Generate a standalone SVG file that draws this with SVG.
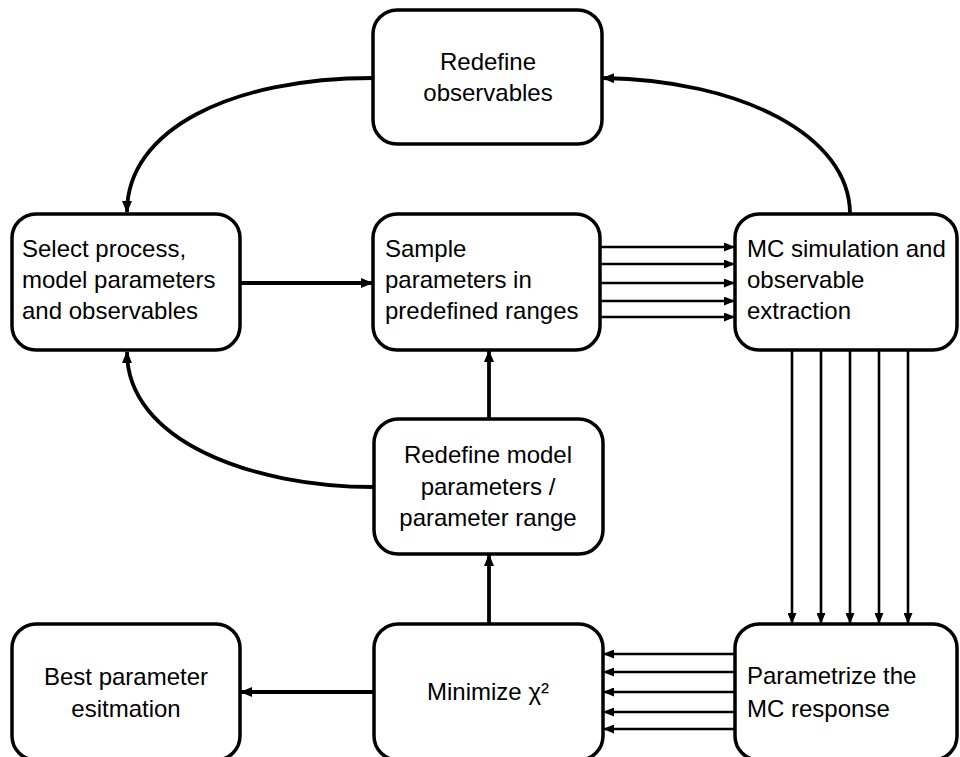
<svg xmlns="http://www.w3.org/2000/svg" width="960" height="757" viewBox="0 0 960 757">
<style>
.box{fill:#fff;stroke:#000;stroke-width:3.5}
.t{font-family:"Liberation Sans",Arial,sans-serif;font-size:24px;fill:#000}
.c{text-anchor:middle}
.thick{fill:none;stroke:#000;stroke-width:3.8}
.thin{fill:none;stroke:#000;stroke-width:2.6}
</style>
<defs>
<marker id="ah" markerUnits="userSpaceOnUse" viewBox="0 0 12 10" refX="11" refY="5" markerWidth="12" markerHeight="10" orient="auto">
<path d="M0,0 L12,5 L0,10 Z" fill="#000"/>
</marker>
<marker id="ahs" markerUnits="userSpaceOnUse" viewBox="0 0 11 9" refX="10" refY="4.5" markerWidth="11" markerHeight="9" orient="auto">
<path d="M0,0 L11,4.5 L0,9 Z" fill="#000"/>
</marker>
</defs>
<rect width="960" height="757" fill="#fff"/>
<g id="connectors">
<path class="thick" d="M373,78 C230,78 127,130 127,212" marker-end="url(#ah)"/>
<path class="thick" d="M850,214 C850,135 740,80 603,78" marker-end="url(#ah)"/>
<path class="thick" d="M374,487 C250,487 127,440 127,352" marker-end="url(#ah)"/>
<path class="thick" d="M240,283 L372,283" marker-end="url(#ah)"/>
<path class="thin" d="M600,247 L734,247" marker-end="url(#ahs)"/>
<path class="thin" d="M600,264 L734,264" marker-end="url(#ahs)"/>
<path class="thin" d="M600,283 L734,283" marker-end="url(#ahs)"/>
<path class="thin" d="M600,301 L734,301" marker-end="url(#ahs)"/>
<path class="thin" d="M600,317 L734,317" marker-end="url(#ahs)"/>
<path class="thin" d="M792,350 L792,623" marker-end="url(#ahs)"/>
<path class="thin" d="M821,350 L821,623" marker-end="url(#ahs)"/>
<path class="thin" d="M850,350 L850,623" marker-end="url(#ahs)"/>
<path class="thin" d="M879,350 L879,623" marker-end="url(#ahs)"/>
<path class="thin" d="M908,350 L908,623" marker-end="url(#ahs)"/>
<path class="thin" d="M735,654 L604,654" marker-end="url(#ahs)"/>
<path class="thin" d="M735,672 L604,672" marker-end="url(#ahs)"/>
<path class="thin" d="M735,692 L604,692" marker-end="url(#ahs)"/>
<path class="thin" d="M735,712 L604,712" marker-end="url(#ahs)"/>
<path class="thin" d="M735,729 L604,729" marker-end="url(#ahs)"/>
<path class="thick" d="M489,624 L489,555" marker-end="url(#ah)"/>
<path class="thick" d="M489,419 L489,351" marker-end="url(#ah)"/>
<path class="thick" d="M374,692 L241,692" marker-end="url(#ah)"/>
</g>
<g id="redefine-observables">
<rect class="box" x="373" y="10" width="229" height="134" rx="24"/>
<text class="t c" x="488" y="70">Redefine</text>
<text class="t c" x="488" y="101">observables</text>
</g>
<g id="select-process">
<rect class="box" x="12" y="214" width="228" height="136" rx="24"/>
<text class="t" x="22" y="257">Select process,</text>
<text class="t" x="22" y="288">model parameters</text>
<text class="t" x="22" y="319">and observables</text>
</g>
<g id="sample-parameters">
<rect class="box" x="373" y="214" width="227" height="136" rx="24"/>
<text class="t" x="385" y="257">Sample</text>
<text class="t" x="385" y="288">parameters in</text>
<text class="t" x="385" y="319">predefined ranges</text>
</g>
<g id="mc-simulation">
<rect class="box" x="735" y="214" width="222" height="136" rx="24"/>
<text class="t" x="747" y="257">MC simulation and</text>
<text class="t" x="747" y="288">observable</text>
<text class="t" x="747" y="319">extraction</text>
</g>
<g id="redefine-model">
<rect class="box" x="374" y="419" width="229" height="135" rx="24"/>
<text class="t c" x="488" y="463">Redefine model</text>
<text class="t c" x="488" y="495">parameters /</text>
<text class="t c" x="488" y="526">parameter range</text>
</g>
<g id="best-parameter">
<rect class="box" x="12" y="624" width="228" height="136" rx="24"/>
<text class="t c" x="126" y="685">Best parameter</text>
<text class="t c" x="126" y="717">esitmation</text>
</g>
<g id="minimize">
<rect class="box" x="374" y="624" width="229" height="136" rx="24"/>
<text class="t c" x="488" y="700">Minimize χ²</text>
</g>
<g id="parametrize">
<rect class="box" x="735" y="624" width="222" height="136" rx="24"/>
<text class="t" x="747" y="684">Parametrize the</text>
<text class="t" x="747" y="717">MC response</text>
</g>
</svg>
